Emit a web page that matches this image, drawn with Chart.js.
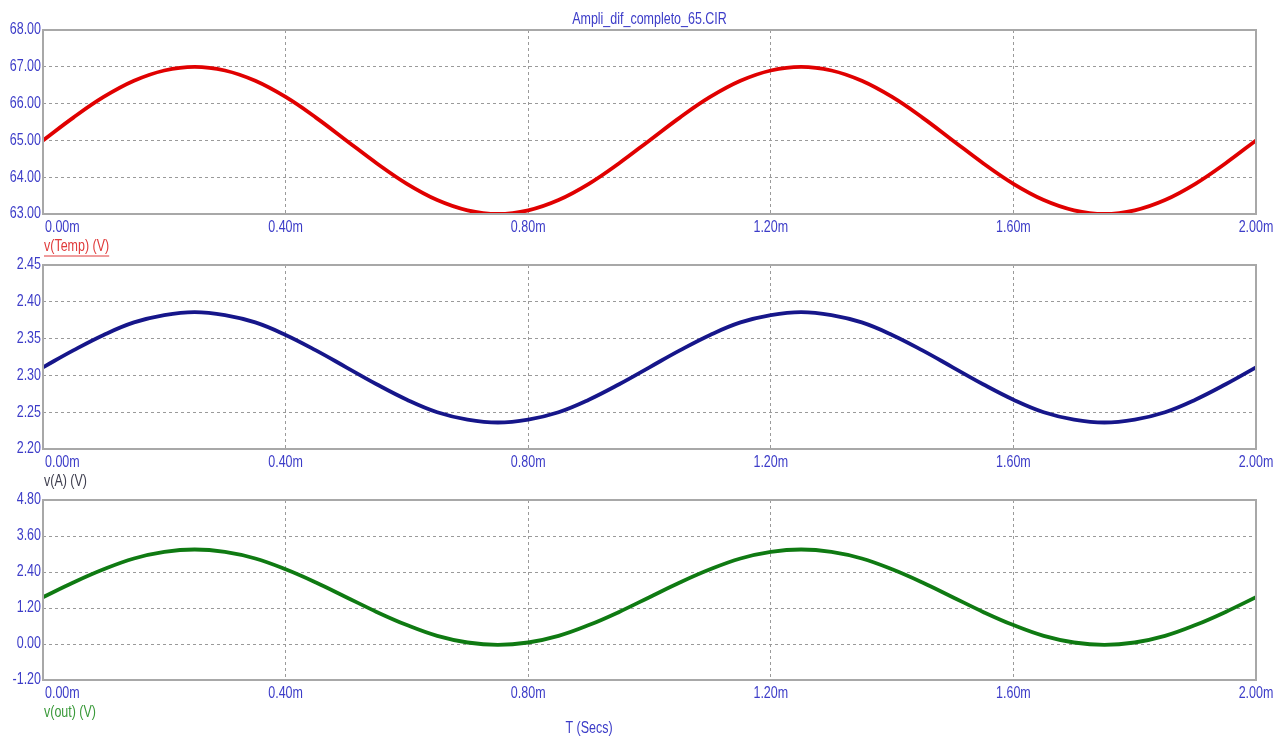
<!DOCTYPE html>
<html>
<head>
<meta charset="utf-8">
<script src="https://cdn.jsdelivr.net/npm/chart.js@4.4.0/dist/chart.umd.min.js"></script>
<style>
  html, body { margin: 0; padding: 0; background: #ffffff; }
  #wrap { position: relative; width: 1287px; height: 743px; overflow: hidden; }
  #wrap canvas { position: absolute; left: 0; top: 0; }
</style>
</head>
<body>
<div id="wrap">
  <canvas id="c1" width="1287" height="743"></canvas>
  <canvas id="c2" width="1287" height="743"></canvas>
  <canvas id="c3" width="1287" height="743"></canvas>
</div>
<script>
// ---- Data (time in ms) ----
const timeMs = [0.00,0.05,0.10,0.15,0.20,0.25,0.30,0.35,0.40,0.45,0.50,0.55,0.60,0.65,0.70,0.75,0.80,0.85,0.90,0.95,
                1.00,1.05,1.10,1.15,1.20,1.25,1.30,1.35,1.40,1.45,1.50,1.55,1.60,1.65,1.70,1.75,1.80,1.85,1.90,1.95,2.00];
const vTemp = [65.00,65.62,66.18,66.62,66.90,67.00,66.90,66.62,66.18,65.62,65.00,64.38,63.82,63.38,63.10,63.00,63.10,63.38,63.82,64.38,
               65.00,65.62,66.18,66.62,66.90,67.00,66.90,66.62,66.18,65.62,65.00,64.38,63.82,63.38,63.10,63.00,63.10,63.38,63.82,64.38,65.00];
const vA = [2.311,2.334,2.355,2.372,2.382,2.386,2.382,2.372,2.355,2.334,2.311,2.288,2.267,2.250,2.240,2.236,2.240,2.250,2.267,2.288,
            2.311,2.334,2.355,2.372,2.382,2.386,2.382,2.372,2.355,2.334,2.311,2.288,2.267,2.250,2.240,2.236,2.240,2.250,2.267,2.288,2.311];
const vOut = [1.56,2.05,2.49,2.85,3.07,3.15,3.07,2.85,2.49,2.05,1.56,1.07,0.63,0.27,0.05,-0.03,0.05,0.27,0.63,1.07,
              1.56,2.05,2.49,2.85,3.07,3.15,3.07,2.85,2.49,2.05,1.56,1.07,0.63,0.27,0.05,-0.03,0.05,0.27,0.63,1.07,1.56];
const xTickValues = [0.00,0.40,0.80,1.20,1.60,2.00];
const xTickLabels = ["0.00m","0.40m","0.80m","1.20m","1.60m","2.00m"];
const titleText = "Ampli_dif_completo_65.CIR";
const xAxisTitle = "T (Secs)";
const seriesNames = ["v(Temp) (V)", "v(A) (V)", "v(out) (V)"];
const yRanges = [[63.00, 68.00, 1.00], [2.20, 2.45, 0.05], [-1.20, 4.80, 1.20]];

// ---- Styling ----
const FONT = "16px 'Liberation Sans', Arial, sans-serif";
const SQUEEZE = 0.78;
const TICK_BLUE = '#3c3cc8';
const W = 1287, H = 743;
const panels = [
  { id: 'c1', data: vTemp, color: '#e00000', top: 30,  bottom: 214, name: seriesNames[0], nameColor: '#e03a3a', underline: true, range: yRanges[0] },
  { id: 'c2', data: vA,    color: '#16168a', top: 265, bottom: 449, name: seriesNames[1], nameColor: '#404050', underline: false, range: yRanges[1] },
  { id: 'c3', data: vOut,  color: '#0f7a12', top: 500, bottom: 680, name: seriesNames[2], nameColor: '#3a9a3a', underline: false, range: yRanges[2] }
];

function narrowText(ctx, text, x, y, align, baseline, color) {
  ctx.save();
  ctx.font = FONT;
  ctx.fillStyle = color;
  ctx.textAlign = align;
  ctx.textBaseline = baseline;
  ctx.translate(x, y);
  ctx.scale(SQUEEZE, 1);
  ctx.fillText(text, 0, 0);
  const w = ctx.measureText(text).width * SQUEEZE;
  ctx.restore();
  return w;
}

function makeChart(p, idx) {
  const overlay = {
    id: 'overlay' + idx,
    afterDraw(chart) {
      const ctx = chart.ctx;
      const a = chart.chartArea;
      const xs = chart.scales.x;
      const ys = chart.scales.y;
      ctx.save();
      ctx.strokeStyle = '#a8a8a8';
      ctx.lineWidth = 2;
      ctx.strokeRect(a.left, a.top, a.right - a.left, a.bottom - a.top);
      ctx.restore();
      ys.ticks.forEach(t => {
        narrowText(ctx, Number(t.value).toFixed(2), a.left - 2, ys.getPixelForValue(t.value), 'right', 'middle', TICK_BLUE);
      });
      xTickValues.forEach((v, i) => {
        const px = xs.getPixelForValue(v);
        if (i === 0) narrowText(ctx, xTickLabels[i], px + 2, a.bottom + 6, 'left', 'top', TICK_BLUE);
        else narrowText(ctx, xTickLabels[i], px, a.bottom + 6, 'center', 'top', TICK_BLUE);
      });
      const ny = a.bottom + 33;
      const w = narrowText(ctx, p.name, a.left + 1, ny, 'left', 'middle', p.nameColor);
      if (p.underline) {
        ctx.save();
        ctx.strokeStyle = p.nameColor;
        ctx.lineWidth = 1;
        ctx.beginPath();
        ctx.moveTo(a.left + 1, ny + 9);
        ctx.lineTo(a.left + 1 + w, ny + 9);
        ctx.stroke();
        ctx.restore();
      }
      if (idx === 0) narrowText(ctx, titleText, (a.left + a.right) / 2, 20, 'center', 'middle', TICK_BLUE);
      if (idx === 2) narrowText(ctx, xAxisTitle, 589, 729, 'center', 'middle', TICK_BLUE);
    }
  };

  return new Chart(document.getElementById(p.id), {
    type: 'line',
    data: {
      datasets: [{
        data: timeMs.map((t, i) => ({ x: t, y: p.data[i] })),
        borderColor: p.color,
        borderWidth: 3.8,
        pointRadius: 0,
        tension: 0.4,
        fill: false
      }]
    },
    options: {
      responsive: false,
      animation: false,
      events: [],
      layout: { padding: { left: 43, right: W - 1256, top: p.top, bottom: H - p.bottom } },
      plugins: { legend: { display: false }, tooltip: { enabled: false }, title: { display: false } },
      scales: {
        x: {
          type: 'linear', min: 0, max: 2,
          afterBuildTicks: (s) => { s.ticks = xTickValues.map(v => ({ value: v })); },
          ticks: { display: false },
          grid: { color: '#9a9a9a', lineWidth: 1, drawTicks: false, tickLength: 0 },
          border: { display: false, dash: [3, 3] },
          afterFit: (s) => { s.height = 0; }
        },
        y: {
          type: 'linear', min: p.range[0], max: p.range[1],
          ticks: { display: false, stepSize: p.range[2] },
          grid: { color: '#9a9a9a', lineWidth: 1, drawTicks: false, tickLength: 0 },
          border: { display: false, dash: [3, 3] },
          afterFit: (s) => { s.width = 0; }
        }
      }
    },
    plugins: [overlay]
  });
}

panels.forEach((p, i) => makeChart(p, i));
</script>
</body>
</html>
